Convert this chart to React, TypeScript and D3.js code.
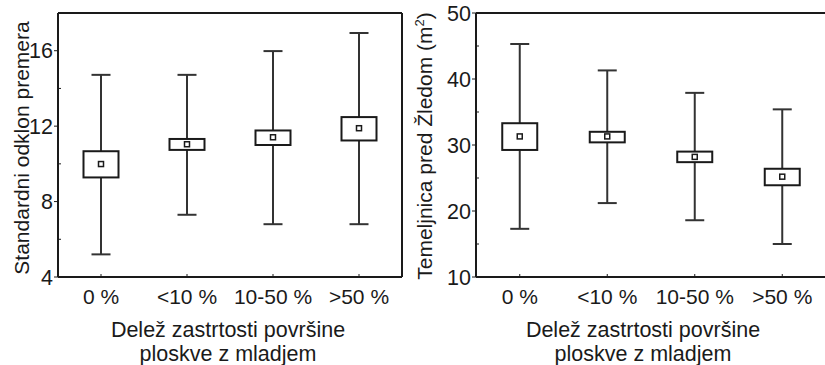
import React from 'react';
import * as d3 from 'd3';

const categories = ['0 %', '<10 %', '10-50 %', '>50 %'];

// Standardni odklon premera
const sdMin = [5.2, 7.3, 6.8, 6.8];
const sdQ1 = [9.28, 10.74, 11.0, 11.24];
const sdMean = [9.99, 11.04, 11.41, 11.89];
const sdQ3 = [10.67, 11.32, 11.77, 12.48];
const sdMax = [14.72, 14.72, 15.98, 16.94];
const sdTicks = [4, 8, 12, 16];
const sdMinor = [6, 10, 14];

// Temeljnica pred žledom
const tmMin = [17.3, 21.2, 18.6, 15.0];
const tmQ1 = [29.25, 30.4, 27.4, 23.9];
const tmMean = [31.3, 31.3, 28.2, 25.2];
const tmQ3 = [33.3, 32.0, 29.0, 26.4];
const tmMax = [45.3, 41.3, 37.9, 35.4];
const tmTicks = [10, 20, 30, 40, 50];
const tmMinor = [15, 25, 35, 45];

const FONT = 'Liberation Sans, Arial, sans-serif';
const INK = '#1a1a1a';
const WHISK = '#333';

type PanelProps = {
  x0: number;
  x1: number;
  domain: [number, number];
  mins: number[];
  q1: number[];
  means: number[];
  q3: number[];
  maxs: number[];
  ticks: number[];
  minor: number[];
  title: React.ReactNode;
  titleX: number;
  titleY: number;
  xTitleX: number;
  rightBorder: boolean;
};

function Panel(p: PanelProps) {
  const top = 13;
  const bottom = 277;
  const x = d3.scaleBand<string>().domain(categories).range([p.x0, p.x1]).padding(0);
  const y = d3.scaleLinear().domain(p.domain).range([bottom, top]);
  const boxW = 35;
  const capW = 19;

  return (
    <g>
      {categories.map((c, i) => {
        const cx = (x(c) as number) + x.bandwidth() / 2;
        return (
          <g key={c}>
            <line x1={cx} x2={cx} y1={y(p.maxs[i])} y2={y(p.q3[i])} stroke={WHISK} strokeWidth={2} />
            <line x1={cx} x2={cx} y1={y(p.q1[i])} y2={y(p.mins[i])} stroke={WHISK} strokeWidth={2} />
            <line x1={cx - capW / 2} x2={cx + capW / 2} y1={y(p.maxs[i])} y2={y(p.maxs[i])} stroke={WHISK} strokeWidth={2} />
            <line x1={cx - capW / 2} x2={cx + capW / 2} y1={y(p.mins[i])} y2={y(p.mins[i])} stroke={WHISK} strokeWidth={2} />
            <rect
              x={cx - boxW / 2}
              y={y(p.q3[i])}
              width={boxW}
              height={y(p.q1[i]) - y(p.q3[i])}
              fill="white"
              stroke={INK}
              strokeWidth={2}
            />
            <rect x={cx - 2.5} y={y(p.means[i]) - 2.5} width={5} height={5} fill="white" stroke={INK} strokeWidth={1.5} />
            <line x1={cx} x2={cx} y1={bottom} y2={bottom - 3} stroke={INK} strokeWidth={1} />
            <text x={cx} y={304} textAnchor="middle" fontSize={21} fontFamily={FONT} fill={INK}>
              {c}
            </text>
          </g>
        );
      })}

      {/* frame */}
      <line x1={p.x0} x2={p.x1} y1={top} y2={top} stroke={INK} strokeWidth={2} />
      <line x1={p.x0} x2={p.x1} y1={bottom} y2={bottom} stroke={INK} strokeWidth={2} />
      <line x1={p.x0} x2={p.x0} y1={top} y2={bottom} stroke={INK} strokeWidth={2} />
      {p.rightBorder && <line x1={p.x1} x2={p.x1} y1={top} y2={bottom} stroke={INK} strokeWidth={2} />}

      {p.ticks.map((t) => (
        <g key={t}>
          <line x1={p.x0 - 4} x2={p.x0} y1={y(t)} y2={y(t)} stroke={INK} strokeWidth={1} />
          <text x={p.x0 - 5} y={y(t)} dy="0.36em" textAnchor="end" fontSize={21.5} fontFamily={FONT} fill={INK}>
            {t}
          </text>
        </g>
      ))}
      {p.minor.map((t) => (
        <line key={t} x1={p.x0} x2={p.x0 + 3} y1={y(t)} y2={y(t)} stroke={INK} strokeWidth={1} />
      ))}

      <text
        transform={`translate(${p.titleX},${p.titleY}) rotate(-90)`}
        textAnchor="middle"
        fontSize={21}
        fontFamily={FONT}
        fill={INK}
      >
        {p.title}
      </text>

      <text x={p.xTitleX} y={337} textAnchor="middle" fontSize={21.5} fontFamily={FONT} fill={INK}>
        Delež zastrtosti površine
      </text>
      <text x={p.xTitleX} y={361} textAnchor="middle" fontSize={21.5} fontFamily={FONT} fill={INK}>
        ploskve z mladjem
      </text>
    </g>
  );
}

export default function App() {
  return (
    <div style={{ position: 'absolute', left: 0, top: 0 }}>
      <svg width={825} height={365} style={{ display: 'block', background: 'white' }}>
        <Panel
          x0={58}
          x1={402}
          domain={[4, 18]}
          mins={sdMin}
          q1={sdQ1}
          means={sdMean}
          q3={sdQ3}
          maxs={sdMax}
          ticks={sdTicks}
          minor={sdMinor}
          title="Standardni odklon premera"
          titleX={29}
          titleY={148}
          xTitleX={228}
          rightBorder={true}
        />
        <Panel
          x0={476}
          x1={826}
          domain={[10, 50]}
          mins={tmMin}
          q1={tmQ1}
          means={tmMean}
          q3={tmQ3}
          maxs={tmMax}
          ticks={tmTicks}
          minor={tmMinor}
          title={
            <>
              Temeljnica pred Žledom (m
              <tspan fontSize={13} dy={-8}>2</tspan>
              <tspan dy={8}>)</tspan>
            </>
          }
          titleX={432}
          titleY={146}
          xTitleX={643}
          rightBorder={false}
        />
      </svg>
    </div>
  );
}
